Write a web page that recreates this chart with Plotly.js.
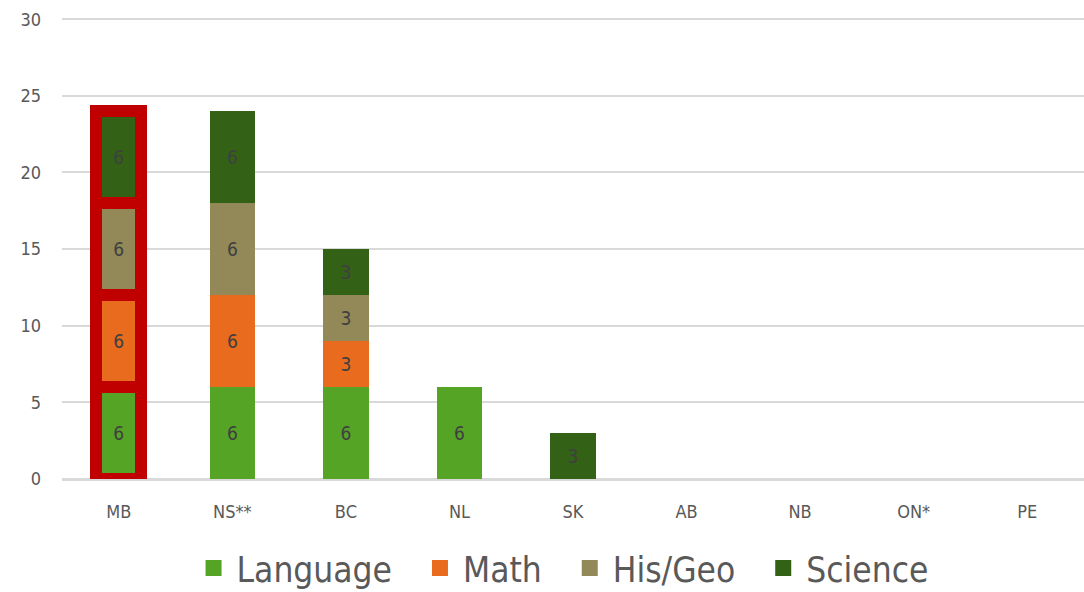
<!DOCTYPE html>
<html><head><meta charset="utf-8">
<script src="https://cdn.plot.ly/plotly-3.0.1.min.js"></script>
<style>html,body{margin:0;padding:0;background:#fff}#c{width:1084px;height:592px}</style>
</head><body><div id="c"></div>
<script>
const categories = ["MB", "NS**", "BC", "NL", "SK", "AB", "NB", "ON*", "PE"];
const language = [6, 6, 6, 6, 0, 0, 0, 0, 0];
const math     = [6, 6, 3, 0, 0, 0, 0, 0, 0];
const hisGeo   = [6, 6, 3, 0, 0, 0, 0, 0, 0];
const science  = [6, 6, 3, 0, 3, 0, 0, 0, 0];
const highlighted = ["MB"];

const series = [
  {name: "Language", values: language, color: "#56A426"},
  {name: "Math", values: math, color: "#E96B1E"},
  {name: "His/Geo", values: hisGeo, color: "#938857"},
  {name: "Science", values: science, color: "#336116"}
];
const font = "DejaVu Sans Condensed, DejaVu Sans, sans-serif";
const traces = [];
series.forEach(s => {
  const isHi = categories.map(c => highlighted.includes(c));
  [false, true].forEach(hi => {
    const xs = [], ys = [];
    categories.forEach((c, i) => { if (isHi[i] === hi) { xs.push(c); ys.push(s.values[i]); } });
    traces.push({
      type: "bar",
      name: s.name,
      legendgroup: s.name,
      showlegend: false,
      x: xs,
      y: ys,
      text: ys.map(v => v ? String(v) : ""),
      textposition: "inside",
      insidetextanchor: "middle",
      textangle: 0,
      textfont: {family: font, size: 19, color: "#404040"},
      hoverinfo: "none",
      marker: {
        color: s.color,
        line: hi ? {color: "#C00000", width: 12} : {width: 0}
      }
    });
  });
});
series.forEach((s, i) => {
  traces.push({
    type: "scatter", mode: "markers",
    name: i < series.length - 1 ? s.name + "\u00A0\u00A0" : s.name,
    legendgroup: s.name,
    x: [null], y: [null], showlegend: true, hoverinfo: "none",
    marker: {symbol: "square", size: 19, color: s.color}
  });
});

Plotly.newPlot("c", traces, {
  width: 1084, height: 592,
  barmode: "stack",
  bargap: 0.6,
  margin: {l: 62, r: 0, t: 18, b: 113},
  paper_bgcolor: "#fff", plot_bgcolor: "#fff",
  font: {family: font, color: "#595959"},
  xaxis: {
    categoryorder: "array", categoryarray: categories,
    tickfont: {size: 18, color: "#595959"},
    showgrid: false, zeroline: false, showline: false,
    ticks: "", ticklabelstandoff: 20, automargin: false
  },
  yaxis: {
    range: [0, 30.08], tickvals: [0, 5, 10, 15, 20, 25, 30],
    tickfont: {size: 18, color: "#595959"},
    gridcolor: "#D9D9D9", gridwidth: 2,
    zeroline: true, zerolinecolor: "#D9D9D9", zerolinewidth: 3,
    showline: false, ticks: "", ticklabelstandoff: 20, automargin: false
  },
  showlegend: true,
  legend: {
    orientation: "h",
    xref: "container", x: 0.5185, xanchor: "center",
    yref: "container", y: 0.04, yanchor: "middle",
    font: {family: font, size: 35, color: "#595959"},
    traceorder: "normal", itemwidth: 36, tracegroupgap: 0
  }
}, {displayModeBar: false, staticPlot: true});
</script></body></html>
